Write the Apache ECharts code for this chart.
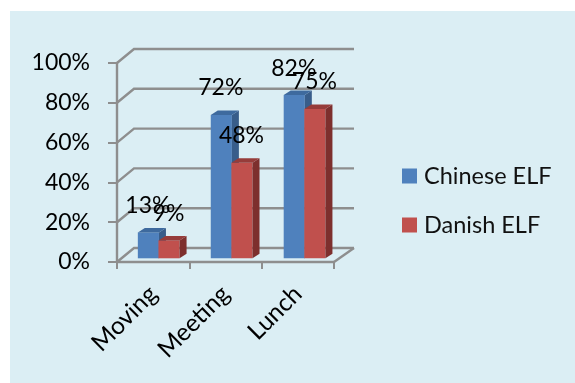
<!DOCTYPE html>
<html><head><meta charset="utf-8">
<style>html,body{margin:0;padding:0;background:#fff}#c{width:575px;height:383px}</style>
<script src="https://cdn.jsdelivr.net/npm/echarts@6/dist/echarts.min.js"></script>
</head><body><div id="c"></div>
<script>
var categories = ['Moving', 'Meeting', 'Lunch'];
var chineseElf = [13, 72, 82];
var danishElf = [9, 48, 75];
var gridTicks = [0, 20, 40, 60, 80, 100];
var chart = echarts.init(document.getElementById('c'));
var FONT = 'Lato';
var AXIS = '#8e8e8e';
var WALL_DX = 17, WALL_DY = -14, WALL_RIGHT = 20;

function wallItem(params, api) {
  var cs = params.coordSys;
  var p = api.coord([0, api.value(1)]);
  var x0 = cs.x, y = p[1];
  return { type: 'polyline', silent: true,
    shape: { points: [[x0, y], [x0 + WALL_DX, y + WALL_DY], [x0 + cs.width + WALL_RIGHT, y + WALL_DY]] },
    style: { stroke: AXIS, lineWidth: 2.4, fill: null } };
}
function floorItem(params, api) {
  var cs = params.coordSys;
  var y = cs.y + cs.height;
  return { type: 'polyline', silent: true,
    shape: { points: [[cs.x + cs.width, y], [cs.x + cs.width + WALL_RIGHT, y + WALL_DY]] },
    style: { stroke: AXIS, lineWidth: 2.4, fill: null } };
}
function barRenderer(shiftA, front, side, top) {
  return function (params, api) {
    var p = api.coord([api.value(0), api.value(1)]);
    var band = api.size([1, 0])[0];
    var zero = api.coord([api.value(0), 0]);
    var w = band * 0.292;
    var x = p[0] + band * shiftA + api.value(0) * 0.6, lift = 3.7;
    var yT = p[1] - lift, yB = zero[1] - lift;
    var dx = 7, dy = -4.5;
    var val = api.value(1);
    return { type: 'group', children: [
      { type: 'rect', shape: { x: x, y: yT, width: w, height: yB - yT }, style: { fill: front } },
      { type: 'polygon', shape: { points: [[x + w, yT], [x + w + dx, yT + dy], [x + w + dx, yB + dy], [x + w, yB]] }, style: { fill: side } },
      { type: 'polygon', shape: { points: [[x, yT], [x + dx, yT + dy], [x + w + dx, yT + dy], [x + w, yT]] }, style: { fill: top } },
      { type: 'text', z2: 100, style: { x: x + w / 2 - 0.5, y: yT - 27, text: val + '%', fill: '#000', font: '23px ' + FONT, align: 'center', verticalAlign: 'middle' } }
    ] };
  };
}
var wallData = gridTicks.map(function (t) { return [0, t]; });
chart.setOption({
  animation: false,
  backgroundColor: '#ffffff',
  graphic: [{ type: 'rect', z: -10, silent: true, shape: { x: 10, y: 11, width: 565, height: 372 }, style: { fill: '#dbeef4' } }],
  grid: { left: 117, right: 241, top: 63, bottom: 121, containLabel: false },
  legend: { left: 402, top: 164, padding: 0, orient: 'vertical', itemWidth: 15, itemHeight: 15, itemGap: 25,
    icon: 'rect', textStyle: { fontFamily: FONT, fontSize: 23.5, color: '#111', padding: [0, 0, 0, 2] },
    data: ['Chinese ELF', 'Danish ELF'] },
  xAxis: { type: 'category', data: categories,
    axisLine: { lineStyle: { color: AXIS, width: 2.4 } },
    axisTick: { show: true, length: 7, lineStyle: { color: AXIS, width: 2 } },
    axisLabel: { interval: 0, rotate: 45, margin: 28, fontFamily: FONT, fontSize: 24.5, color: '#000' } },
  yAxis: { type: 'value', min: 0, max: 100, interval: 20,
    splitLine: { show: false },
    axisLine: { show: true, lineStyle: { color: AXIS, width: 2.4 } },
    axisTick: { show: true, length: 9, lineStyle: { color: AXIS, width: 2 } },
    axisLabel: { margin: 27, fontFamily: FONT, fontSize: 23, color: '#000', padding: [5, 0, 0, 0], formatter: '{value}%' } },
  series: [
    { type: 'custom', name: 'walls', silent: true, renderItem: wallItem, data: wallData, encode: { x: 0, y: 1 }, clip: false, z: 1 },
    { type: 'custom', name: 'floor', silent: true, renderItem: floorItem, data: [[0, 0]], encode: { x: 0, y: 1 }, clip: false, z: 1 },
    { type: 'custom', name: 'Chinese ELF', itemStyle: { color: '#4f81bd' }, clip: false, z: 3,
      renderItem: barRenderer(-0.212, '#4f81bd', '#385d8a', '#3e6a9e'),
      data: chineseElf.map(function (v, i) { return [i, v]; }), encode: { x: 0, y: 1 } },
    { type: 'custom', name: 'Danish ELF', itemStyle: { color: '#c0504d' }, clip: false, z: 4,
      renderItem: barRenderer(0.073, '#c0504d', '#7d2f2d', '#963c3a'),
      data: danishElf.map(function (v, i) { return [i, v]; }), encode: { x: 0, y: 1 } }
  ]
});
</script></body></html>
